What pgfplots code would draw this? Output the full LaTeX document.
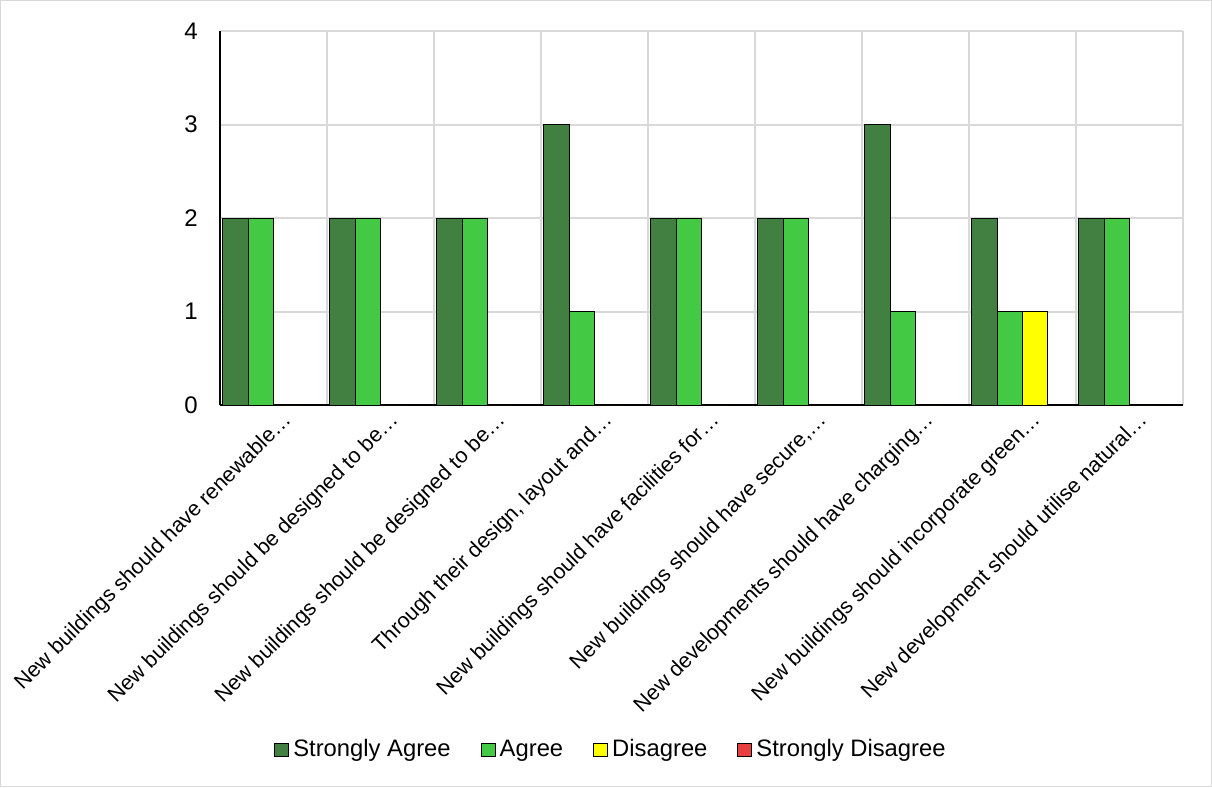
\documentclass[border=0pt]{standalone}
\usepackage{fontspec}
\setmainfont{Liberation Sans}
\usepackage{pgfplots}
\pgfplotsset{compat=1.18}
\definecolor{sagree}{HTML}{418041}
\definecolor{agree}{HTML}{43C943}
\definecolor{disagree}{HTML}{FFFF00}
\definecolor{sdisagree}{HTML}{E84040}
\definecolor{gridgray}{HTML}{D9D9D9}
\begin{document}
\fontsize{12}{14}\selectfont
\begin{tikzpicture}
\begin{axis}[
  scale only axis, width=481.5pt, height=187pt,
  xmin=-0.5, xmax=8.5, ymin=0, ymax=4,
  ybar=0pt, bar width=12.65pt,
  axis lines*=left, axis line style={-, line width=0.8pt},
  ytick={0,1,2,3,4}, ymajorgrids,
  xtick={0,...,8},
  xticklabels={{New buildings should have renewable…},
    {New buildings should be designed to be…},
    {New buildings should be designed to be…},
    {Through their design, layout and…},
    {New buildings should have facilities for…},
    {New buildings should have secure,…},
    {New developments should have charging…},
    {New buildings should incorporate green…},
    {New development should utilise natural…}},
  minor xtick={-0.5,0.5,...,8.5}, xminorgrids,
  major tick length=0pt, minor tick length=0pt,
  grid style={draw=gridgray, line width=1pt},
  minor grid style={draw=gridgray, line width=1pt},
  yticklabel style={font=\fontsize{12}{14}\selectfont, xshift=-7pt},
  /pgf/number format/assume math mode=true,
  xticklabel style={font=\fontsize{10.7}{13}\selectfont, xshift=7.5pt, yshift=-6pt, rotate=45, anchor=east, inner sep=0pt},
  legend style={at={(0.406,-0.922)}, anchor=center, draw=none, fill=none,
    legend columns=4, font=\fontsize{11.9}{14}\selectfont,
    nodes={inner xsep=1pt, inner ysep=1pt},
    /tikz/every odd column/.append style={column sep=1pt},
    /tikz/every even column/.append style={column sep=14pt}},
  legend image code/.code={\draw[#1, draw=black, line width=0.5pt] (0pt,-3.4pt) rectangle (7pt,3.4pt);},
  clip=false,
]
\addplot[fill=sagree, draw=black, line width=0.5pt] coordinates {(0,2) (1,2) (2,2) (3,3) (4,2) (5,2) (6,3) (7,2) (8,2)};
\addplot[fill=agree, draw=black, line width=0.5pt] coordinates {(0,2) (1,2) (2,2) (3,1) (4,2) (5,2) (6,1) (7,1) (8,2)};
\addplot[fill=disagree, draw=black, line width=0.5pt] coordinates {(0,0) (1,0) (2,0) (3,0) (4,0) (5,0) (6,0) (7,1) (8,0)};
\addplot[fill=sdisagree, draw=black, line width=0.5pt] coordinates {(0,0) (1,0) (2,0) (3,0) (4,0) (5,0) (6,0) (7,0) (8,0)};
\legend{Strongly Agree, Agree, Disagree, Strongly Disagree}
\end{axis}
\draw[gridgray, line width=0.5pt]
  ([xshift=-109.75pt, yshift=-190.75pt]current axis.south west)
  rectangle ([xshift=14.25pt, yshift=15.25pt]current axis.north east);
\pgfresetboundingbox
\useasboundingbox ([xshift=-110pt, yshift=-191pt]current axis.south west)
  rectangle ([xshift=14.5pt, yshift=15.5pt]current axis.north east);
\end{tikzpicture}
\end{document}
